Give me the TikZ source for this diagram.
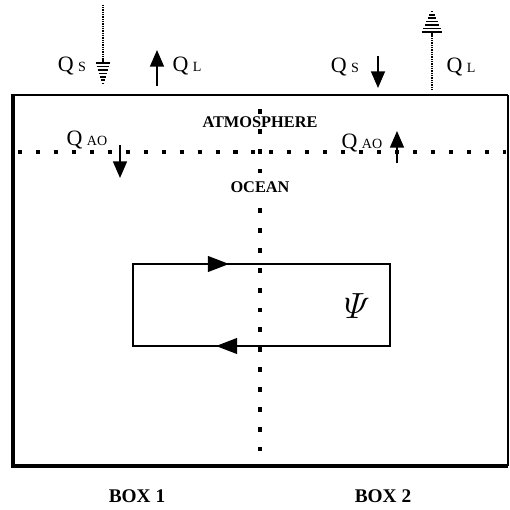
\documentclass[tikz,border=0pt]{standalone}
\usepackage{amsmath}
\usepackage{fontspec}
\setmainfont{Liberation Serif}
\usetikzlibrary{arrows.meta}
\newcommand{\qflux}[1]{Q\hspace{2.5pt}{\fontsize{8}{10}\selectfont #1}}
% hatched arrow head: tip x, tip y, direction (1 = down, -1 = up), half width step
\newcommand{\hatchhead}[4]{%
  \foreach \i in {0,...,7} {
    \draw[line width=0.9pt] (#1-\i*#4,#2-#3*\i*3.4) -- (#1+\i*#4,#2-#3*\i*3.4);
  }}

\begin{document}
\begin{tikzpicture}[x=0.02cm,y=-0.02cm,font=\fontsize{12.5}{15}\selectfont]
\tikzset{
  layer/.style={font=\fontsize{9.3}{11}\selectfont\bfseries},
  boxlabel/.style={font=\fontsize{11}{13}\selectfont\bfseries},
  flux/.style={line width=0.8pt,-{Triangle[length=9.5pt,width=8pt]}},
  cell/.style={line width=0.8pt,-{Triangle[length=12pt,width=9pt]}},
  thinstem/.style={line width=0.7pt,dash pattern=on 0.6pt off 0.4pt},
  vdots/.style={line width=2.8pt,dash pattern=on 2.8pt off 8.5pt},
  hdots/.style={line width=2.3pt,dash pattern=on 2.3pt off 7.92pt}
}
\useasboundingbox (0,0) rectangle (510,510);
% outer box
\draw[line width=1pt] (12,95) -- (508,95);
\draw[line width=2.4pt] (13,94) -- (13,466) -- (508,466);
\draw[line width=1.5pt] (508,466) -- (508,95);
% dividing lines
\draw[vdots] (260,109) -- (260,463);
\draw[hdots] (18,152) -- (506,152);
\node[layer,fill=white,inner sep=0.5pt] (atm) at (260,122) {ATMOSPHERE};
\node[layer,fill=white,inner sep=0.5pt] (ocn) at (260,187) {OCEAN};
% surface fluxes
\node (qs1) at (72,66) {\qflux{S}};
\node (ql1) at (187,66) {\qflux{L}};
\node (qs2) at (345,67) {\qflux{S}};
\node (ql2) at (461,67) {\qflux{L}};
\coordinate (qs1top) at (103,5);
\coordinate (qs1tip) at (103,87);
\draw[thinstem] (qs1top) -- (103,63);
\hatchhead{103}{87}{1}{1.05}
\draw[flux] (157,86) -- (157,50);
\draw[flux] (378,56) -- (378,88);
\coordinate (ql2bot) at (432,90);
\coordinate (ql2tip) at (432,8);
\draw[thinstem] (ql2bot) -- (432,32);
\hatchhead{432}{8}{-1}{1.45}
% air-sea fluxes
\node (qao1) at (87,140) {\qflux{AO}};
\node (qao2) at (362,143) {\qflux{AO}};
\draw[flux] (120,145) -- (120,178);
\draw[flux] (397,163) -- (397,131);
% overturning loop
\coordinate (nw) at (133,264);
\coordinate (ne) at (390,264);
\coordinate (se) at (390,346);
\coordinate (sw) at (133,346);
\draw[line width=0.8pt] (nw) -- (ne) -- (se) -- (sw) -- cycle;
\draw[cell] (nw) -- (229,264);
\draw[cell] (se) -- (216,346);
\node (psi) at (357,306) {\fontsize{21}{21}\selectfont$\varPsi$};
% box names
\node[boxlabel] (box1) at (137,496) {BOX 1};
\node[boxlabel] (box2) at (383,496) {BOX 2};
\end{tikzpicture}
\end{document}
